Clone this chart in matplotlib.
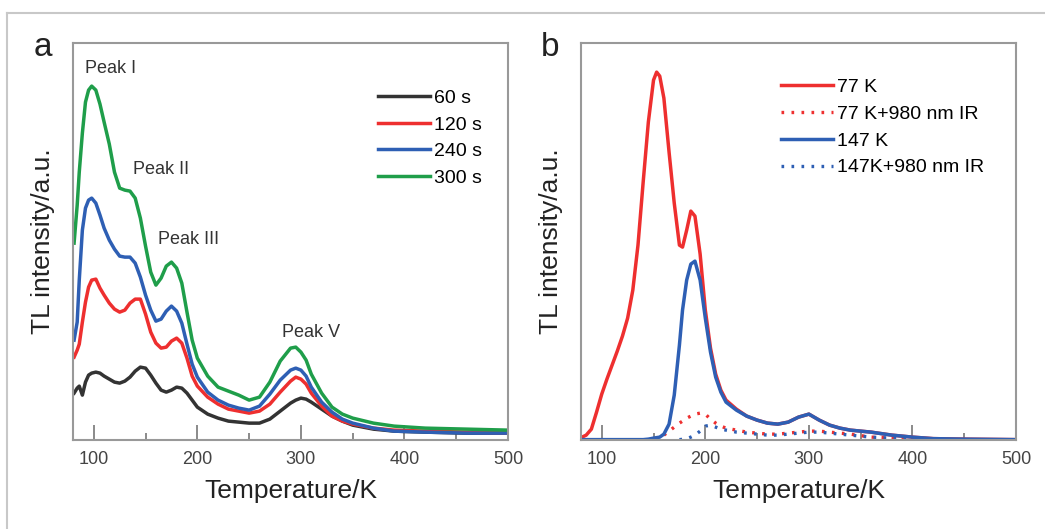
import numpy as np
import matplotlib
matplotlib.use("Agg")
import matplotlib.pyplot as plt
from matplotlib.lines import Line2D
from matplotlib.ticker import MultipleLocator

plt.rcParams['font.family'] = ['Liberation Sans', 'DejaVu Sans']
plt.rcParams['lines.solid_joinstyle'] = 'round'

# ---- panel a: TL glow curves for different irradiation times ----
temp_a = [81, 84, 86, 89, 92, 95, 98, 102, 106, 110, 115, 120, 125, 130, 135, 140,
          145, 150, 155, 160, 165, 170, 175, 180, 185, 190, 195, 200, 210, 220, 230,
          240, 250, 260, 270, 280, 290, 295, 300, 305, 310, 320, 330, 340, 350, 370,
          390, 420, 460, 500]
tl_60s = [47, 52, 54, 45, 58, 65, 67, 68, 67, 64, 61, 58, 57, 59, 63, 69,
          73, 72, 65, 57, 50, 48, 50, 53, 52, 47, 40, 33, 26, 22, 19,
          18, 17, 17, 21, 29, 37, 40, 42, 41, 38, 31, 24, 19, 15, 11,
          9, 8, 7, 7]
tl_120s = [83, 90, 96, 118, 138, 153, 160, 161, 152, 145, 137, 131, 128, 130, 137, 141,
           141, 126, 108, 97, 92, 93, 99, 102, 97, 82, 64, 54, 43, 36, 31,
           29, 27, 29, 36, 48, 59, 63, 61, 56, 47, 34, 24, 19, 16, 12,
           10, 9, 8, 7]
tl_240s = [100, 118, 160, 210, 232, 240, 242, 237, 225, 212, 200, 191, 184, 183, 183, 177,
           163, 145, 130, 119, 121, 129, 134, 129, 117, 96, 76, 63, 48, 40, 35,
           32, 30, 34, 46, 60, 70, 72, 70, 64, 53, 38, 28, 21, 17, 12,
           9, 8, 7, 7]
tl_300s = [197, 235, 268, 307, 338, 350, 354, 350, 336, 318, 296, 268, 252, 250, 249, 242,
           222, 194, 168, 155, 162, 174, 178, 172, 157, 128, 100, 82, 64, 53, 49,
           45, 40, 43, 58, 79, 92, 93, 88, 80, 66, 47, 33, 26, 22, 17,
           14, 12, 11, 10]

peak_names = ["Peak I", "Peak II", "Peak III", "Peak V"]
peak_x = [116, 165, 192, 310]
peak_y = [372, 271, 201, 108]

# ---- panel b: TL after irradiation at 77 K / 147 K, with and without IR ----
temp_b = [79, 85, 90, 95, 100, 105, 110, 115, 120, 125, 130, 135, 140, 145, 150, 153,
          156, 160, 165, 170, 175, 178, 182, 186, 190, 195, 200, 205, 210, 215, 220,
          230, 240, 250, 260, 270, 280, 290, 300, 310, 320, 330, 340, 360, 380, 400,
          420, 450, 500]
nan = np.nan
tl_77k = [2, 5, 11, 28, 46, 61, 75, 89, 104, 122, 150, 195, 258, 318, 360, 368,
          364, 342, 288, 237, 195, 193, 210, 229, 224, 186, 130, 92, 66, 50, 40,
          31, 24, 20, 17, 16, 18, 23, 26, 20, 15, 12, 10, 8, 5, 3,
          1.5, 1, 0.5]
tl_77k_ir = [nan, nan, nan, nan, nan, nan, nan, nan, nan, nan, nan, nan, nan, nan, nan, nan,
             nan, 5, 9, 13, 17, 19, 22, 24, 26, 27, 26, 21, 17, 14, 12,
             10, 8, 7, 6, 6, 7, 8, 9, 9, 8, 7, 6, 3, 2, 1,
             0.5, nan, nan]
tl_147k = [0.5, 0.5, 0.5, 0.5, 0.5, 0.5, 0.5, 0.5, 0.5, 0.5, 0.5, 0.5, 0.5, 1, 2, 2.5,
           3, 6, 16, 45, 95, 130, 160, 176, 179, 160, 122, 88, 63, 48, 38,
           30, 24, 20, 17, 16, 18, 23, 26, 20, 15, 12, 10, 8, 5, 3,
           1.5, 1, 0.5]
tl_147k_ir = [nan, nan, nan, nan, nan, nan, nan, nan, nan, nan, nan, nan, nan, nan, nan, nan,
              nan, nan, nan, nan, 0.5, 0.8, 1.5, 3, 5, 9, 14, 15, 13, 11, 10,
              8, 7, 6, 5, 5, 6, 7, 8, 8, 7, 6, 5, 3, 2, 1,
              0.5, nan, nan]

c_black = '#333333'
c_red = '#ee2f2f'
c_blue = '#2e5fb4'
c_green = '#1f9e4a'
dots = (0, (0.8, 2.2))

fig = plt.figure(figsize=(10.45, 5.29), dpi=100)
ax_a = fig.add_axes([0.0699, 0.168, 0.4163, 0.7505])
ax_b = fig.add_axes([0.556, 0.168, 0.4163, 0.7505])

lw = 2.5
ax_a.plot(temp_a, tl_60s, color=c_black, lw=lw, label="60 s")
ax_a.plot(temp_a, tl_120s, color=c_red, lw=lw, label="120 s")
ax_a.plot(temp_a, tl_240s, color=c_blue, lw=lw, label="240 s")
ax_a.plot(temp_a, tl_300s, color=c_green, lw=lw, label="300 s")
for name, px, py in zip(peak_names, peak_x, peak_y):
    ax_a.text(px, py, name, ha='center', va='center', fontsize=13, color='#333333')

ax_b.plot(temp_b, tl_77k, color=c_red, lw=lw, label="77 K")
ax_b.plot(temp_b, tl_77k_ir, color=c_red, lw=2.4, ls=dots, label="77 K+980 nm IR")
ax_b.plot(temp_b, tl_147k, color=c_blue, lw=lw, label="147 K")
ax_b.plot(temp_b, tl_147k_ir, color=c_blue, lw=2.4, ls=dots, label="147K+980 nm IR")

legend_pos = {ax_a: (0.70, 0.884), ax_b: (0.459, 0.911)}
for ax, letter in [(ax_a, 'a'), (ax_b, 'b')]:
    ax.set_xlim(80, 500)
    ax.set_ylim(0, 397)
    ax.xaxis.set_major_locator(MultipleLocator(100))
    ax.xaxis.set_minor_locator(MultipleLocator(50))
    ax.set_yticks([])
    ax.tick_params(axis='x', which='major', direction='in', length=11, width=1.2,
                   color='#777777', labelsize=13, labelcolor='#444444', pad=8)
    ax.tick_params(axis='x', which='minor', direction='in', length=5, width=1.2,
                   color='#777777')
    for sp in ax.spines.values():
        sp.set_color('#999999')
        sp.set_linewidth(1.5)
    ax.set_xlabel("Temperature/K", fontsize=19, color='#222222', labelpad=8)
    ax.set_ylabel("TL intensity/a.u.", fontsize=19, color='#222222', labelpad=13)
    ax.text(-0.07, 0.99, letter, transform=ax.transAxes, fontsize=24,
            ha='center', va='center', color='#222222')
    ax.legend(loc='upper left', bbox_to_anchor=legend_pos[ax], frameon=False,
              fontsize=14, handlelength=2.7, handletextpad=0.2, labelspacing=0.47,
              borderpad=0, borderaxespad=0)

# light grey frame around the figure (top and left edge only)
fig.add_artist(Line2D([0.0067, 1.0], [0.9754, 0.9754], transform=fig.transFigure,
                      color='#c8c8c8', lw=1.5))
fig.add_artist(Line2D([0.0067, 0.0067], [0.0, 0.9754], transform=fig.transFigure,
                      color='#c8c8c8', lw=1.5))

fig.savefig("out.png", dpi=100)
